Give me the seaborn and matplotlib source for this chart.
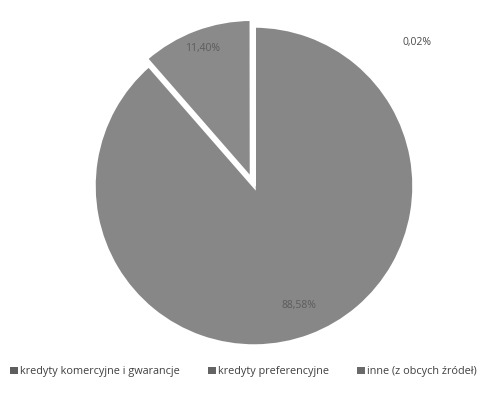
import numpy as np
import matplotlib
matplotlib.use("Agg")
import matplotlib.pyplot as plt
from matplotlib.patches import Patch
import seaborn as sns

# dane
kategorie = ["kredyty komercyjne i gwarancje", "kredyty preferencyjne", "inne (z obcych źródeł)"]
udzialy = [88.58, 11.40, 0.02]
etykiety = ["88,58%", "11,40%", "0,02%"]
kolory = ["#878787", "#8a8a8a", "#6e6e6e"]
kolory_legendy = ["#5e5e5e", "#646464", "#6a6a6a"]

sns.set_theme(style="white")
plt.rcParams["font.family"] = ["Open Sans", "DejaVu Sans"]

fig = plt.figure(figsize=(4.87, 3.97), dpi=100)
ax = fig.add_axes([78 / 487, 35 / 397, 352 / 487, 352 / 397])

wedges, _ = ax.pie(udzialy, colors=kolory, startangle=90, counterclock=False,
                   explode=[0, 0.045, 0], radius=1.0,
                   wedgeprops=dict(edgecolor="white", linewidth=2.5))
ax.set_xlim(-1.1, 1.1)
ax.set_ylim(-1.1, 1.1)
ax.set_aspect("equal")
ax.axis("off")

# etykiety procentowe
odleglosci = [0.8, 0.87]
for w, lab, d in zip(wedges[:2], etykiety[:2], odleglosci):
    th = np.deg2rad((w.theta1 + w.theta2) / 2)
    cx, cy = w.center
    ax.text(cx + d * np.cos(th), cy + d * np.sin(th), lab, ha="center", va="center",
            fontsize=7.5, color="#5c5c5c")
ax.text(1.02, 0.9, etykiety[2], ha="center", va="center", fontsize=7.5, color="#4a4a4a")

uchwyty = [Patch(facecolor=c, edgecolor="none") for c in kolory_legendy]
fig.legend(uchwyty, kategorie, loc="lower center", bbox_to_anchor=(0.5, 0.025), ncol=3,
           frameon=False, fontsize=7.8, handlelength=0.7, handleheight=0.7,
           handletextpad=0.2, columnspacing=2.6, labelcolor="#404040")

fig.savefig("out.png", dpi=100)
